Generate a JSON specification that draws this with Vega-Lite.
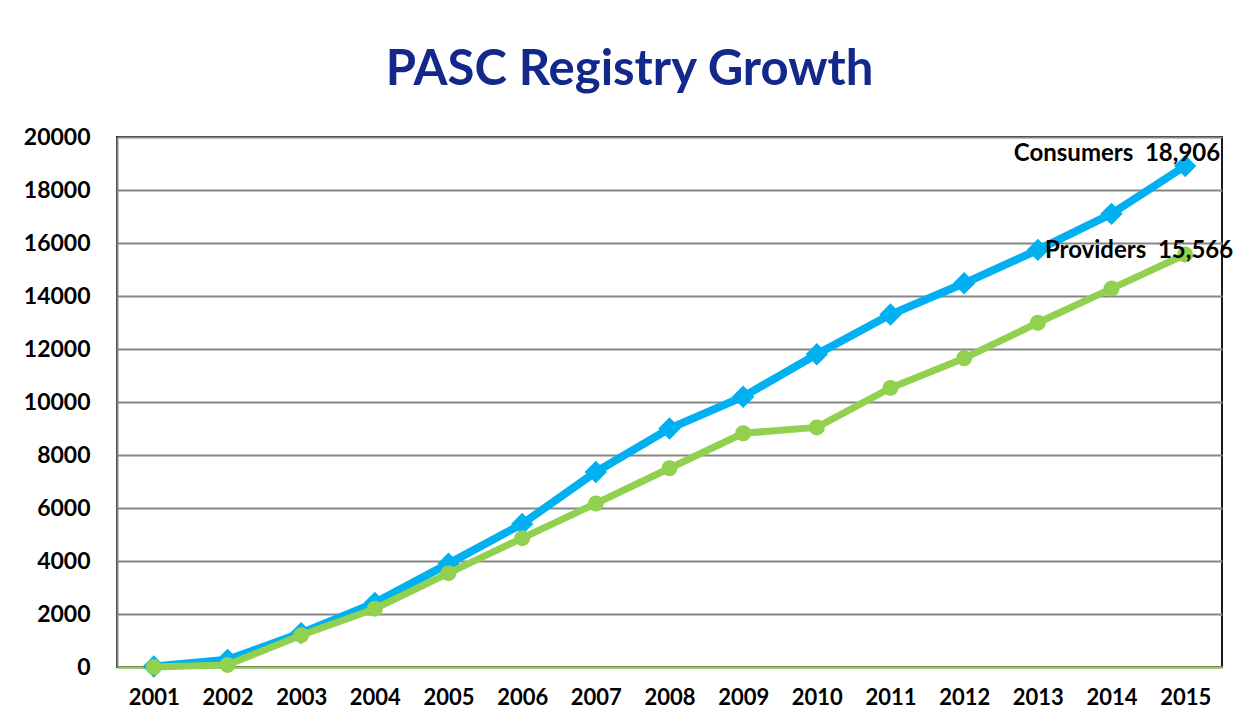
{
  "$schema": "https://vega.github.io/schema/vega-lite/v6.json",
  "autosize": "none",
  "width": 1105,
  "height": 530,
  "padding": {"left": 117, "top": 137, "right": 22, "bottom": 61},
  "background": "white",
  "title": {
    "text": "PASC Registry Growth",
    "font": "Lato",
    "fontSize": 49,
    "fontWeight": "bold",
    "color": "#13288A",
    "anchor": "middle",
    "frame": "group",
    "dx": -40,
    "offset": 31
  },
  "data": {
    "values": [
      {"year": "2001", "series": "Consumers", "value": 20},
      {"year": "2002", "series": "Consumers", "value": 270},
      {"year": "2003", "series": "Consumers", "value": 1280},
      {"year": "2004", "series": "Consumers", "value": 2420},
      {"year": "2005", "series": "Consumers", "value": 3900},
      {"year": "2006", "series": "Consumers", "value": 5400},
      {"year": "2007", "series": "Consumers", "value": 7360},
      {"year": "2008", "series": "Consumers", "value": 9000},
      {"year": "2009", "series": "Consumers", "value": 10200},
      {"year": "2010", "series": "Consumers", "value": 11800},
      {"year": "2011", "series": "Consumers", "value": 13300},
      {"year": "2012", "series": "Consumers", "value": 14480},
      {"year": "2013", "series": "Consumers", "value": 15740},
      {"year": "2014", "series": "Consumers", "value": 17100},
      {"year": "2015", "series": "Consumers", "value": 18906},
      {"year": "2001", "series": "Providers", "value": 0},
      {"year": "2002", "series": "Providers", "value": 80},
      {"year": "2003", "series": "Providers", "value": 1200},
      {"year": "2004", "series": "Providers", "value": 2200},
      {"year": "2005", "series": "Providers", "value": 3540},
      {"year": "2006", "series": "Providers", "value": 4860},
      {"year": "2007", "series": "Providers", "value": 6170},
      {"year": "2008", "series": "Providers", "value": 7500},
      {"year": "2009", "series": "Providers", "value": 8820},
      {"year": "2010", "series": "Providers", "value": 9040},
      {"year": "2011", "series": "Providers", "value": 10530},
      {"year": "2012", "series": "Providers", "value": 11650},
      {"year": "2013", "series": "Providers", "value": 12990},
      {"year": "2014", "series": "Providers", "value": 14280},
      {"year": "2015", "series": "Providers", "value": 15566}
    ]
  },
  "encoding": {
    "x": {
      "field": "year",
      "type": "ordinal",
      "scale": {"type": "point", "padding": 0.5},
      "axis": {
        "title": null,
        "labelAngle": 0,
        "ticks": false,
        "grid": false,
        "domainColor": "#92D050",
        "domainWidth": 2,
        "labelPadding": 20,
        "labelFont": "Lato",
        "labelFontSize": 22,
        "labelFontWeight": "bold",
        "labelColor": "#000000"
      }
    },
    "y": {
      "field": "value",
      "type": "quantitative",
      "scale": {"domain": [0, 20000], "nice": false},
      "axis": {
        "title": null,
        "values": [0, 2000, 4000, 6000, 8000, 10000, 12000, 14000, 16000, 18000, 20000],
        "format": "d",
        "ticks": false,
        "grid": true,
        "gridColor": "#868686",
        "gridWidth": 2,
        "domainColor": "#868686",
        "domainWidth": 2,
        "labelPadding": 27,
        "labelFont": "Lato",
        "labelFontSize": 23,
        "labelFontWeight": "bold",
        "labelColor": "#000000"
      }
    }
  },
  "layer": [
    {
      "transform": [{"filter": "datum.series === 'Consumers'"}],
      "mark": {"type": "line", "color": "#00B0F0", "strokeWidth": 8}
    },
    {
      "transform": [{"filter": "datum.series === 'Consumers'"}],
      "mark": {"type": "point", "shape": "diamond", "filled": true, "color": "#00B0F0", "size": 500, "opacity": 1}
    },
    {
      "transform": [{"filter": "datum.series === 'Providers'"}],
      "mark": {"type": "line", "color": "#92D050", "strokeWidth": 7}
    },
    {
      "transform": [{"filter": "datum.series === 'Providers'"}],
      "mark": {"type": "point", "shape": "circle", "filled": true, "color": "#92D050", "size": 256, "opacity": 1}
    },
    {
      "transform": [{"filter": "datum.series === 'Consumers' && datum.year === '2015'"}],
      "mark": {"type": "text", "align": "right", "baseline": "alphabetic", "dx": 35, "dy": -5, "font": "Lato", "fontSize": 24, "fontWeight": "bold", "color": "#000000"},
      "encoding": {"text": {"value": "Consumers\u00a0 18,906"}}
    },
    {
      "transform": [{"filter": "datum.series === 'Providers' && datum.year === '2015'"}],
      "mark": {"type": "text", "align": "right", "baseline": "alphabetic", "dx": 48, "dy": 3, "font": "Lato", "fontSize": 24, "fontWeight": "bold", "color": "#000000"},
      "encoding": {"text": {"value": "Providers\u00a0 15,566"}}
    }
  ],
  "config": {
    "view": {"stroke": "#1a1a1a", "strokeWidth": 2}
  }
}
